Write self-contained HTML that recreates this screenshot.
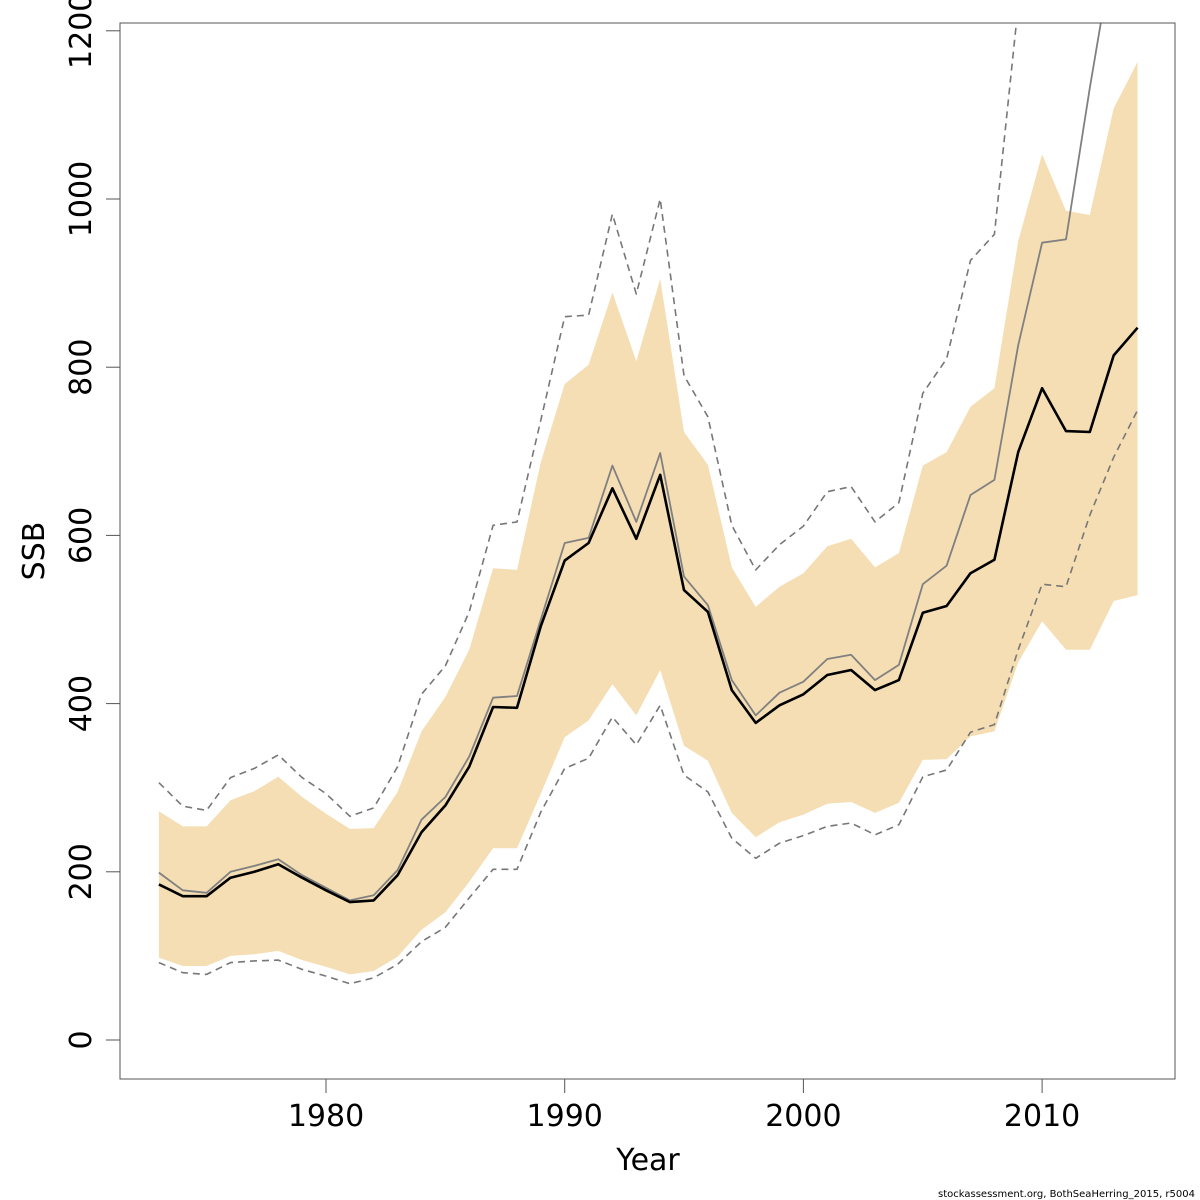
<!DOCTYPE html>
<html><head><meta charset="utf-8"><style>
html,body{margin:0;padding:0;background:#fff;}
svg{display:block;font-family:"DejaVu Sans","Liberation Sans",sans-serif;}
</style></head><body>
<svg id="chart" width="1200" height="1200" viewBox="0 0 1200 1200" xmlns="http://www.w3.org/2000/svg">
<defs><clipPath id="pc"><rect x="120" y="23" width="1055" height="1056"/></clipPath></defs>
<g id="band" clip-path="url(#pc)"></g>
<g id="lines" clip-path="url(#pc)"></g>
<rect x="120" y="23" width="1055" height="1056" fill="none" stroke="#555" stroke-width="1"/>
<g id="axes"></g>
<text x="648" y="1170" font-size="30" text-anchor="middle">Year</text>
<text transform="translate(44,551) rotate(-90)" font-size="30" text-anchor="middle">SSB</text>
<text x="1195" y="1197" font-size="10" text-anchor="end">stockassessment.org, BothSeaHerring_2015, r5004</text>
</svg>
<script>
const years=[1973,1974,1975,1976,1977,1978,1979,1980,1981,1982,1983,1984,1985,1986,1987,1988,1989,1990,1991,1992,1993,1994,1995,1996,1997,1998,1999,2000,2001,2002,2003,2004,2005,2006,2007,2008,2009,2010,2011,2012,2013,2014];
const ssbMedian=[185,171,171,193,200,209,193,178,164,166,196,247,279,325,396,395,492,570,591,656,596,672,535,509,416,377,398,411,434,440,416,428,508,516,555,571,699,775,724,723,814,847];
const ssbMean=[199,178,175,200,207,215,196,181,166,172,202,262,289,337,407,409,500,591,597,683,616,698,551,517,428,386,413,426,453,458,428,446,542,564,648,666,826,948,952,1132,1300,1400];
const bandUpper=[272,254,254,285,296,313,289,269,251,252,295,367,408,464,561,559,687,780,803,889,807,905,723,684,562,515,539,555,587,596,562,579,683,699,753,775,950,1053,986,981,1108,1163];
const bandLower=[98,88,88,100,102,106,95,87,78,82,99,131,152,188,228,228,293,360,380,423,386,440,350,332,270,241,259,268,281,283,270,282,333,334,361,367,449,498,464,464,522,529];
const dashUpper=[306,278,273,312,323,339,312,293,266,276,325,411,445,509,612,616,737,860,862,982,887,1000,790,741,612,559,589,611,652,658,616,639,769,810,927,958,1230,1500,1600,1700,1800,1900];
const dashLower=[92,80,78,92,94,95,84,76,67,74,90,117,134,169,203,203,271,323,335,384,351,398,315,295,240,216,234,243,254,258,244,256,313,321,366,375,464,542,539,624,693,749];
const xTicks=[1980,1990,2000,2010];
const yTicks=[0,200,400,600,800,1000,1200];
const NS="http://www.w3.org/2000/svg";
const X=v=>326+(v-1980)*23.87;
const Y=v=>1040-v*0.841;
function mk(t,a){const e=document.createElementNS(NS,t);for(const k in a)e.setAttribute(k,a[k]);return e;}
const pts=(arr)=>arr.map((v,i)=>X(years[i]).toFixed(1)+','+Y(v).toFixed(1)).join(' ');
const band=document.getElementById('band');
const poly=mk('polygon',{points:pts(bandUpper)+' '+bandLower.map((v,i)=>[X(years[i]),Y(v)]).reverse().map(p=>p[0].toFixed(1)+','+p[1].toFixed(1)).join(' '),fill:'#F5DEB3'});


band.appendChild(poly);
const lines=document.getElementById('lines');
const specs=[[dashUpper,'#777',1.6,'7,5','upper-dashed-bound'],[dashLower,'#777',1.6,'7,5','lower-dashed-bound'],[ssbMean,'#808080',1.8,'','ssb-mean-line'],[ssbMedian,'#000',2.6,'','ssb-median-line']];
for(const s of specs){
  const l=mk('polyline',{points:pts(s[0]),fill:'none',stroke:s[1],'stroke-width':s[2],'stroke-dasharray':s[3],'stroke-linejoin':'round'});
  
  
  lines.appendChild(l);
}
const ax=document.getElementById('axes');
for(const t of xTicks){
  const tk=mk('line',{x1:X(t),x2:X(t),y1:1079,y2:1093,stroke:'#555'});
  
  
  ax.appendChild(tk);
  const tx=mk('text',{x:X(t),y:1126,'font-size':30,'text-anchor':'middle'});
  
  
  tx.textContent=t;ax.appendChild(tx);
}
for(const t of yTicks){
  const tk=mk('line',{x1:106,x2:120,y1:Y(t),y2:Y(t),stroke:'#555'});
  
  
  ax.appendChild(tk);
  const tx=mk('text',{transform:`translate(91,${Y(t)}) rotate(-90)`,'font-size':30,'text-anchor':'middle'});
  
  
  tx.textContent=t;ax.appendChild(tx);
}
</script>
</body></html>
